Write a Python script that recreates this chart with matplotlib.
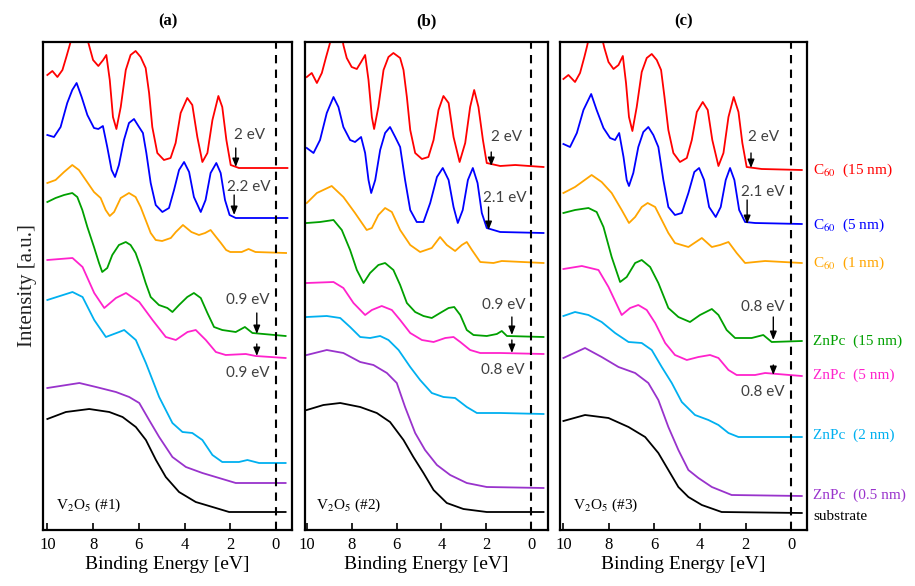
import numpy as np
import matplotlib
matplotlib.use("Agg")
import matplotlib.pyplot as plt

plt.rcParams['font.family'] = ['Liberation Serif', 'DejaVu Serif']
plt.rcParams['mathtext.fontset'] = 'stix'

# spectra: binding energy (eV) and stacked intensity (a.u.)
# panel (a)
a_red_e = [10.0, 9.78, 9.56, 9.34, 9.17, 9.02, 8.62, 8.18, 8.0, 7.77, 7.56, 7.42, 7.27, 7.13, 6.98, 6.79, 6.57, 6.36, 6.14, 5.92, 5.7, 5.55, 5.41, 5.19, 4.9, 4.61, 4.39, 4.17, 3.88, 3.66, 3.44, 3.22, 3.0, 2.78, 2.52, 2.35, 2.17, 1.98, 1.62, 0.16, -0.5]
a_red_i = [455, 459, 453, 460, 473, 485, 520, 485, 470, 464, 470, 475, 450, 413, 401, 423, 460, 475, 479, 473, 462, 437, 403, 377, 370, 372, 387, 417, 432, 425, 393, 368, 377, 410, 434, 423, 390, 365, 362, 362, 362]
a_blue_e = [10.0, 9.71, 9.42, 9.13, 8.91, 8.72, 8.5, 8.25, 7.96, 7.77, 7.57, 7.38, 7.19, 7.04, 6.87, 6.65, 6.43, 6.21, 5.99, 5.82, 5.67, 5.48, 5.26, 4.97, 4.68, 4.46, 4.24, 4.02, 3.8, 3.59, 3.29, 3.08, 2.86, 2.61, 2.42, 2.23, 2.03, 1.76, -0.5]
a_blue_i = [395, 393, 403, 427, 440, 447, 433, 415, 402, 401, 404, 383, 360, 353, 365, 390, 407, 411, 403, 397, 377, 347, 325, 318, 322, 340, 360, 368, 358, 333, 318, 330, 357, 367, 357, 330, 315, 312, 312]
a_orange_e = [10.0, 9.64, 9.27, 8.91, 8.62, 8.32, 7.96, 7.67, 7.45, 7.27, 7.08, 6.79, 6.43, 6.14, 5.92, 5.7, 5.48, 5.26, 4.98, 4.6, 4.38, 4.07, 3.7, 3.37, 3.1, 2.86, 2.62, 2.41, 2.18, 2.0, 1.5, 1.2, 0.9, -0.44]
a_orange_i = [347, 350, 358, 365, 360, 350, 338, 332, 320, 314, 318, 332, 337, 333, 323, 310, 297, 290, 289, 292, 298, 305, 298, 295, 297, 300, 293, 287, 280, 278, 278, 281, 278, 277]
a_green_e = [10.0, 9.64, 9.27, 8.91, 8.69, 8.47, 8.25, 7.96, 7.74, 7.6, 7.38, 7.16, 6.87, 6.57, 6.36, 6.14, 5.92, 5.7, 5.48, 5.12, 4.75, 4.53, 4.24, 3.88, 3.59, 3.29, 3.0, 2.71, 2.35, 1.76, 1.36, 1.03, -0.42]
a_green_i = [328, 332, 335, 337, 333, 320, 303, 283, 267, 258, 262, 275, 285, 288, 285, 277, 263, 247, 233, 225, 222, 218, 225, 233, 237, 232, 217, 203, 200, 198, 203, 197, 194]
a_pink_e = [10.0, 8.9, 8.46, 7.95, 7.51, 7.0, 6.56, 5.98, 5.4, 4.82, 4.38, 3.87, 3.51, 3.07, 2.63, 2.2, 1.32, 0.89, -0.42]
a_pink_i = [270, 272, 263, 237, 222, 232, 237, 228, 210, 193, 190, 198, 200, 190, 178, 175, 176, 174, 172]
a_cyan_e = [10.0, 8.9, 8.46, 7.95, 7.44, 6.86, 6.64, 6.13, 5.69, 5.4, 5.11, 4.53, 4.09, 3.66, 3.22, 2.78, 2.35, 1.62, 1.25, 0.74, -0.42]
a_cyan_i = [230, 238, 233, 210, 193, 198, 200, 190, 167, 150, 133, 107, 98, 97, 90, 75, 68, 68, 70, 67, 67]
a_purple_e = [10.0, 8.6, 7.87, 7.0, 6.42, 5.98, 5.55, 5.11, 4.53, 3.94, 3.22, 2.49, 1.76, -0.42]
a_purple_i = [142, 147, 143, 138, 133, 127, 110, 93, 73, 63, 57, 52, 47, 47]
a_black_e = [10.0, 9.19, 8.17, 7.29, 6.71, 6.13, 5.69, 5.25, 4.82, 4.24, 3.51, 2.63, 2.05, -0.42]
a_black_i = [111, 118, 121, 118, 113, 103, 90, 70, 53, 38, 28, 22, 18, 18]

# panel (b)
b_red_e = [10.0, 9.78, 9.55, 9.33, 9.14, 8.99, 8.6, 8.37, 8.22, 8.0, 7.77, 7.58, 7.4, 7.25, 7.1, 7.0, 6.81, 6.58, 6.36, 6.14, 5.84, 5.69, 5.54, 5.39, 5.17, 4.87, 4.58, 4.35, 4.13, 3.91, 3.68, 3.46, 3.19, 2.94, 2.72, 2.54, 2.35, 2.15, 1.98, 1.38, 0.71, -0.55]
b_red_i = [453, 457, 447, 457, 473, 485, 520, 485, 472, 463, 461, 468, 475, 450, 413, 401, 423, 460, 473, 477, 472, 460, 433, 400, 377, 371, 373, 390, 420, 434, 427, 393, 368, 387, 423, 440, 423, 390, 367, 364, 365, 363]
b_blue_e = [10.0, 9.7, 9.41, 9.11, 8.81, 8.59, 8.37, 8.07, 7.85, 7.58, 7.4, 7.25, 7.13, 6.95, 6.73, 6.51, 6.29, 6.06, 5.84, 5.62, 5.39, 5.1, 4.8, 4.5, 4.2, 3.94, 3.68, 3.46, 3.27, 3.05, 2.82, 2.6, 2.39, 2.2, 1.98, 1.38, -0.55]
b_blue_i = [382, 377, 390, 417, 433, 423, 403, 390, 388, 393, 377, 350, 337, 350, 380, 397, 403, 393, 383, 350, 320, 308, 308, 327, 353, 362, 350, 323, 307, 320, 350, 362, 347, 317, 302, 298, 297]
b_orange_e = [10.0, 9.55, 8.89, 8.37, 7.85, 7.33, 7.1, 6.81, 6.51, 6.21, 5.84, 5.39, 4.95, 4.43, 4.06, 3.76, 3.39, 3.09, 2.87, 2.64, 2.27, 1.68, 1.31, -0.55]
b_orange_i = [327, 337, 344, 333, 317, 300, 302, 315, 322, 318, 300, 285, 278, 282, 293, 285, 279, 285, 288, 280, 268, 267, 269, 267]
b_green_e = [10.0, 9.41, 8.81, 8.44, 8.07, 7.77, 7.47, 7.18, 6.81, 6.51, 6.14, 5.84, 5.54, 5.17, 4.8, 4.43, 4.06, 3.68, 3.43, 3.16, 2.87, 2.57, 1.98, 1.53, 1.31, 1.08, -0.55]
b_green_i = [307, 308, 310, 300, 280, 260, 247, 257, 265, 267, 260, 245, 227, 218, 214, 212, 217, 222, 223, 215, 200, 195, 194, 196, 199, 194, 193]
b_pink_e = [10.0, 8.81, 8.37, 7.92, 7.4, 7.1, 6.66, 6.21, 5.84, 5.39, 4.87, 4.35, 3.83, 3.46, 3.16, 2.72, 2.27, 1.38, -0.55]
b_pink_i = [247, 248, 242, 227, 215, 220, 224, 220, 210, 197, 190, 188, 192, 193, 188, 180, 177, 177, 176]
b_cyan_e = [10.0, 9.11, 8.51, 8.07, 7.62, 7.18, 6.73, 6.36, 5.91, 5.39, 4.95, 4.43, 3.91, 3.39, 2.87, 2.42, 1.38, -0.55]
b_cyan_i = [213, 214, 212, 203, 193, 192, 194, 190, 180, 163, 150, 137, 133, 132, 123, 117, 117, 116]
b_purple_e = [10.0, 9.11, 8.37, 7.62, 7.03, 6.43, 5.99, 5.62, 5.17, 4.73, 4.2, 3.61, 2.87, 1.98, -0.55]
b_purple_i = [175, 180, 177, 168, 165, 157, 147, 123, 97, 80, 65, 55, 47, 43, 42]
b_black_e = [10.0, 9.26, 8.51, 7.62, 6.88, 6.29, 5.69, 5.25, 4.8, 4.35, 3.76, 3.02, 1.98, -0.55]
b_black_i = [120, 125, 127, 123, 117, 108, 90, 73, 57, 40, 27, 21, 18, 18]

# panel (c)
c_red_e = [10.0, 9.78, 9.49, 9.27, 9.08, 8.97, 8.6, 8.2, 8.02, 7.8, 7.58, 7.39, 7.25, 7.12, 6.97, 6.78, 6.56, 6.34, 6.12, 5.9, 5.71, 5.56, 5.39, 5.17, 4.88, 4.58, 4.36, 4.14, 3.88, 3.66, 3.46, 3.19, 2.97, 2.75, 2.52, 2.31, 2.14, 1.95, 1.29, -0.47]
c_red_i = [451, 455, 448, 457, 473, 483, 520, 482, 468, 461, 465, 474, 447, 413, 399, 423, 458, 472, 476, 470, 460, 433, 400, 377, 368, 372, 390, 418, 428, 420, 390, 364, 377, 413, 433, 418, 387, 363, 361, 360]
c_blue_e = [10.0, 9.71, 9.41, 9.12, 8.78, 8.54, 8.24, 7.95, 7.73, 7.55, 7.36, 7.22, 7.12, 6.93, 6.71, 6.49, 6.27, 6.05, 5.83, 5.61, 5.39, 5.1, 4.8, 4.51, 4.25, 4.04, 3.82, 3.6, 3.31, 3.09, 2.87, 2.68, 2.49, 2.28, 2.02, 1.58, -0.47]
c_blue_i = [386, 383, 397, 420, 436, 420, 402, 392, 390, 397, 373, 350, 344, 357, 383, 398, 403, 395, 383, 350, 323, 315, 317, 337, 358, 362, 350, 323, 313, 323, 350, 362, 350, 320, 308, 307, 306]
c_orange_e = [10.0, 9.49, 8.76, 8.32, 7.88, 7.44, 7.12, 6.85, 6.56, 6.3, 5.97, 5.68, 5.39, 5.1, 4.51, 3.92, 3.48, 3.12, 2.75, 2.39, 2.02, 1.14, -0.47]
c_orange_i = [337, 343, 355, 348, 337, 320, 307, 313, 323, 327, 323, 310, 297, 287, 283, 292, 283, 285, 288, 277, 267, 269, 267]
c_green_e = [10.0, 9.49, 8.9, 8.54, 8.24, 7.88, 7.51, 7.22, 6.85, 6.56, 6.19, 5.83, 5.39, 4.95, 4.44, 4.0, 3.48, 3.19, 2.83, 2.46, 1.73, 1.22, 0.85, -0.47]
c_green_i = [317, 320, 322, 318, 303, 273, 248, 253, 267, 270, 263, 247, 222, 213, 208, 215, 221, 215, 200, 192, 192, 195, 188, 189]
c_pink_e = [10.0, 9.19, 8.46, 8.02, 7.44, 7.07, 6.71, 6.34, 5.97, 5.53, 5.1, 4.58, 4.07, 3.56, 3.19, 2.75, 2.39, 1.58, 1.14, -0.47]
c_pink_i = [261, 264, 260, 243, 215, 222, 225, 220, 207, 187, 175, 170, 173, 175, 172, 160, 155, 155, 157, 154]
c_cyan_e = [10.0, 9.49, 8.9, 8.32, 7.73, 7.14, 6.56, 6.12, 5.68, 5.24, 4.8, 4.22, 3.63, 3.19, 2.75, 2.31, -0.47]
c_cyan_i = [214, 218, 215, 208, 197, 188, 187, 180, 163, 147, 128, 115, 110, 105, 97, 93, 93]
c_purple_e = [10.0, 9.05, 8.32, 7.58, 6.85, 6.27, 5.83, 5.39, 4.95, 4.51, 4.07, 3.48, 2.61, -0.47]
c_purple_i = [172, 182, 173, 163, 157, 147, 130, 103, 80, 60, 52, 43, 35, 34]
c_black_e = [10.0, 9.05, 8.02, 7.14, 6.41, 5.83, 5.39, 4.95, 4.51, 3.92, 3.05, -0.47]
c_black_i = [109, 115, 112, 103, 93, 77, 60, 43, 33, 25, 18, 17]

colors = ['#ff0000', '#0000ff', '#ffa500', '#00a000', '#ff22cc', '#00b0f0', '#9933cc', '#000000']
legend_names = ['C$_{60}$  (15 nm)', 'C$_{60}$  (5 nm)', 'C$_{60}$  (1 nm)', 'ZnPc  (15 nm)',
                'ZnPc  (5 nm)', 'ZnPc  (2 nm)', 'ZnPc  (0.5 nm)', 'substrate']
legend_y = [360, 305, 267, 189, 155, 95, 35, 13]

titles = ['(a)', '(b)', '(c)']
substrates = ['V$_2$O$_5$ (#1)', 'V$_2$O$_5$ (#2)', 'V$_2$O$_5$ (#3)']

# onset labels: text, text x, text y, arrow x, arrow top, arrow bottom
a_marks = [('2 eV', 1.14, 395, 1.76, 382, 363), ('2.2 eV', 1.18, 343, 1.83, 335, 315),
           ('0.9 eV', 1.22, 230, 0.84, 217, 196), ('0.9 eV', 1.22, 157, 0.84, 186, 174)]
b_marks = [('2 eV', 1.08, 393, 1.78, 378, 364), ('2.1 eV', 1.16, 332, 1.9, 323, 300),
           ('0.9 eV', 1.23, 225, 0.86, 213, 195), ('0.8 eV', 1.28, 160, 0.86, 190, 177)]
c_marks = [('2 eV', 1.22, 393, 1.76, 377, 362), ('2.1 eV', 1.22, 338, 1.93, 330, 306),
           ('0.8 eV', 1.22, 223, 0.78, 213, 190), ('0.8 eV', 1.22, 138, 0.78, 165, 155)]

panels = [
    [(a_red_e, a_red_i), (a_blue_e, a_blue_i), (a_orange_e, a_orange_i), (a_green_e, a_green_i),
     (a_pink_e, a_pink_i), (a_cyan_e, a_cyan_i), (a_purple_e, a_purple_i), (a_black_e, a_black_i)],
    [(b_red_e, b_red_i), (b_blue_e, b_blue_i), (b_orange_e, b_orange_i), (b_green_e, b_green_i),
     (b_pink_e, b_pink_i), (b_cyan_e, b_cyan_i), (b_purple_e, b_purple_i), (b_black_e, b_black_i)],
    [(c_red_e, c_red_i), (c_blue_e, c_blue_i), (c_orange_e, c_orange_i), (c_green_e, c_green_i),
     (c_pink_e, c_pink_i), (c_cyan_e, c_cyan_i), (c_purple_e, c_purple_i), (c_black_e, c_black_i)],
]
marks = [a_marks, b_marks, c_marks]

W, H = 915, 586
boxes = [(43, 249), (305, 243), (560, 247)]
xlims = [(10.19, -0.70), (10.08, -0.75), (10.15, -0.70)]

fig = plt.figure(figsize=(9.15, 5.86), dpi=100)
axs = []
for k in range(3):
    left, width = boxes[k]
    ax = fig.add_axes([left / W, 56 / H, width / W, 488 / H])
    axs.append(ax)
    for (e, i), col in zip(panels[k], colors):
        ax.plot(e, i, color=col, lw=1.3)
    ax.axvline(0, color='k', ls=(0, (4, 3)), lw=1.5)
    ax.set_xlim(*xlims[k])
    ax.set_ylim(0, 488)
    ax.set_yticks([])
    ax.set_xticks([10, 8, 6, 4, 2, 0])
    ax.tick_params(axis='x', direction='in', length=5, width=1.2, labelsize=12, pad=5)
    for s in ax.spines.values():
        s.set_linewidth(1.6)
    ax.set_xlabel('Binding Energy [eV]', fontsize=14, labelpad=2)
    ax.set_title(titles[k], fontsize=12, fontweight='bold', pad=12)
    ax.text(9.6, 25, substrates[k], fontsize=11, ha='left', va='center')
    for txt, tx, ty, ax_x, y0, y1 in marks[k]:
        ax.annotate('', xy=(ax_x, y1), xytext=(ax_x, y0),
                    arrowprops=dict(arrowstyle='-|>,head_length=0.5,head_width=0.2',
                                    color='k', lw=1.0, shrinkA=0, shrinkB=0,
                                    mutation_scale=10))
        ax.text(tx, ty, txt, fontsize=11, color='#404040', ha='center', va='center',
                family=['Lato', 'DejaVu Sans'])

for name, y, col in zip(legend_names, legend_y, colors):
    axs[2].text(1.025, y / 488, name, transform=axs[2].transAxes, color=col,
                fontsize=11, ha='left', va='center')

axs[0].set_ylabel('Intensity [a.u.]', fontsize=15, labelpad=4, color='#222222')

fig.savefig('out.png', dpi=100)
